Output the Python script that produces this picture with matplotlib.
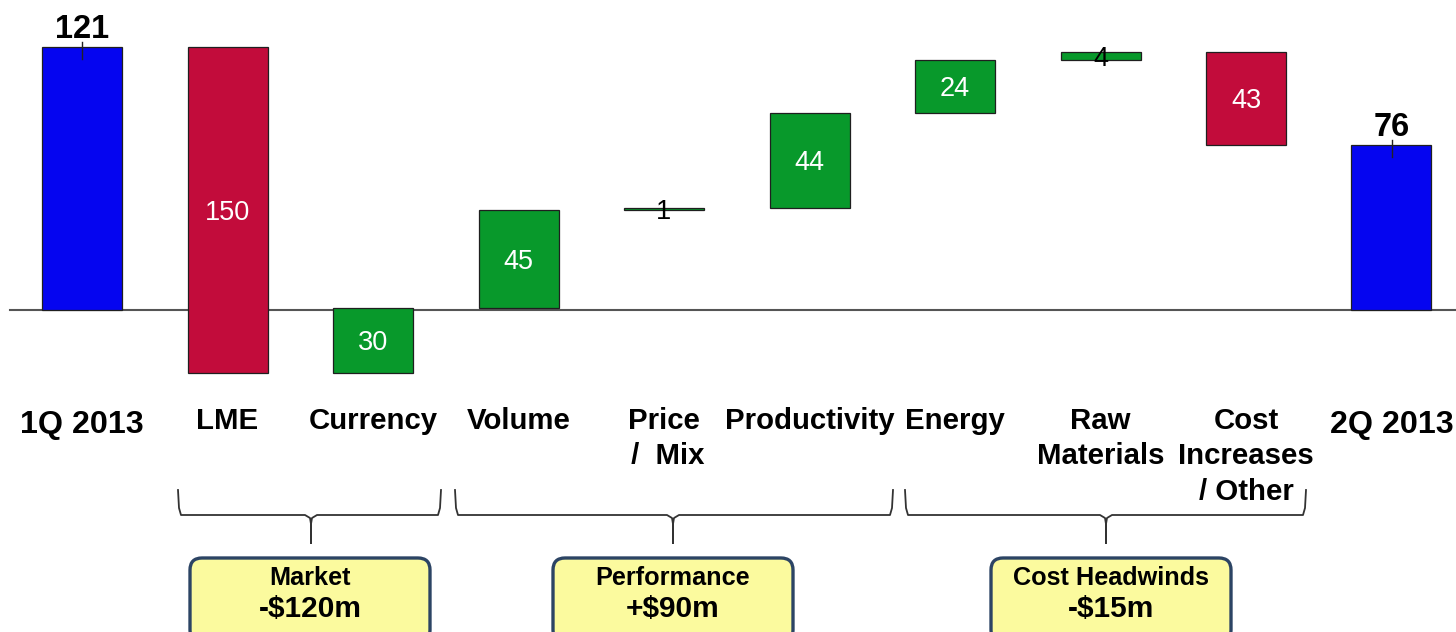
import numpy as np
import matplotlib
matplotlib.use("Agg")
import matplotlib.pyplot as plt
from matplotlib.patches import FancyBboxPatch

# data
categories = ["1Q 2013", "LME", "Currency", "Volume", "Price\n /  Mix", "Productivity",
              "Energy", "Raw\nMaterials", "Cost\nIncreases\n/ Other", "2Q 2013"]
start_value = 121
deltas = [-150, 30, 45, 1, 44, 24, 4, -43]
end_value = 76
group_names = ["Market", "Performance", "Cost Headwinds"]
group_totals = ["-$120m", "+$90m", "-$15m"]

BLUE = "#0505f0"
RED = "#c20c3b"
GREEN = "#08992b"
BOX_FC = "#fbfa9e"
BOX_EC = "#2c4464"

# layout helpers: pixel geometry of the original slide
W, H = 1456, 632
ZERO_PX = 310
PX_PER_UNIT = 2.17
X0_PX, STEP_PX = 82, 145.5


def yv(px):
    """pixel row -> data value"""
    return (ZERO_PX - px) / PX_PER_UNIT


def xd(px):
    """pixel column -> category position"""
    return (px - X0_PX) / STEP_PX


plt.rcParams["font.family"] = ["Liberation Sans", "DejaVu Sans"]

fig = plt.figure(figsize=(W / 100, H / 100), dpi=100)
ax = fig.add_axes([0, 0, 1, 1])
ax.set_xlim(xd(0), xd(W))
ax.set_ylim(yv(H), yv(0))
ax.axis("off")

# waterfall geometry
cum = np.concatenate([[start_value], start_value + np.cumsum(deltas)])
bottoms = [0]
heights = [start_value]
colors = [BLUE]
for i, d in enumerate(deltas):
    prev = cum[i]
    bottoms.append(min(prev, prev + d))
    heights.append(abs(d))
    colors.append(GREEN if d > 0 else RED)
bottoms.append(0)
heights.append(end_value)
colors.append(BLUE)

x = np.arange(len(categories))
bar_w = 80 / STEP_PX
ax.bar(x, heights, bottom=bottoms, width=bar_w, color=colors,
       edgecolor="#1f1f1f", linewidth=0.9, zorder=3)

# zero line
ax.plot([xd(10), xd(W)], [0, 0], color="#555555", lw=1.5, zorder=2)

# totals labels + small tick marks
for xi, v in [(x[0], start_value), (x[-1], end_value)]:
    ax.text(xi, v + 1.0, str(v), ha="center", va="bottom", fontsize=23.5,
            fontweight="bold", color="black", zorder=5)
    ax.plot([xi, xi], [v + 2.3, v - 5.5], color="#222222", lw=1.0, zorder=5)

# delta labels
for i, d in enumerate(deltas):
    xi = x[i + 1]
    mid = bottoms[i + 1] + heights[i + 1] / 2
    small = abs(d) < 5
    ax.text(xi, mid - 1.3, str(abs(d)), ha="center", va="center",
            fontsize=19.5, color="black" if small else "white", zorder=5)

# category labels
for i, lab in enumerate(categories):
    is_total = i in (0, len(categories) - 1)
    ax.text(x[i], yv(410 if is_total else 407), lab, ha="center", va="top",
            multialignment="center", fontsize=23.2 if is_total else 21.2,
            fontweight="bold", linespacing=1.33, zorder=5)

# group brackets and summary boxes
brackets = [(178, 441, 311), (455, 893, 673), (905, 1306, 1106)]
box_left = [190, 553, 991]
box_w = 240

for (l, r, c), bl, name, tot in zip(brackets, box_left, group_names, group_totals):
    xs = [l, l + 1, l + 3, c - 6, c - 1, c, c, c, c + 1, c + 6, r - 3, r - 1, r]
    ys = [490, 508, 515, 515, 518, 524, 543, 524, 518, 515, 515, 508, 490]
    ax.plot([xd(p) for p in xs], [yv(p) for p in ys], color="#333333", lw=1.3, zorder=4)

    box = FancyBboxPatch((xd(bl), yv(642)), box_w / STEP_PX, yv(558) - yv(642),
                         boxstyle="round,pad=0,rounding_size=%f" % (12 / STEP_PX),
                         mutation_aspect=STEP_PX / PX_PER_UNIT,
                         fc=BOX_FC, ec=BOX_EC, lw=2.4, zorder=4)
    ax.add_patch(box)
    cx = xd(bl + box_w / 2)
    ax.text(cx, yv(578), name, ha="center", va="center", fontsize=18.2,
            fontweight="bold", zorder=5)
    ax.text(cx, yv(609), tot, ha="center", va="center", fontsize=21.5,
            fontweight="bold", zorder=5)

fig.savefig("out.png", dpi=100)
